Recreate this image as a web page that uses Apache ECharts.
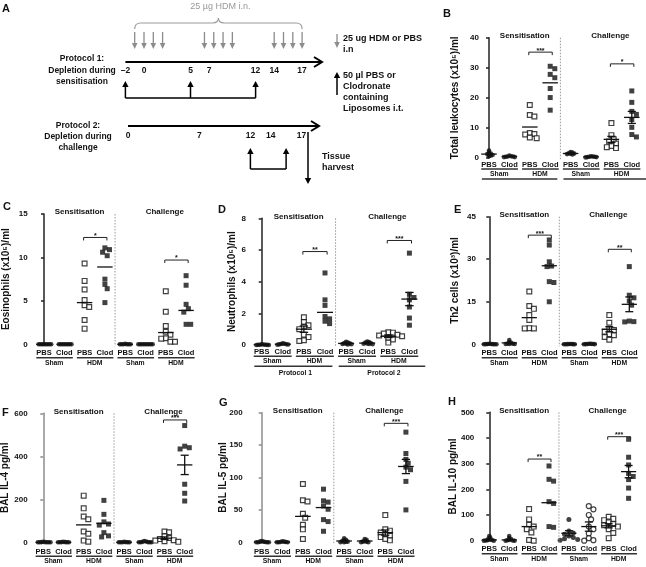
<!DOCTYPE html>
<html><head><meta charset="utf-8">
<script src="https://cdn.jsdelivr.net/npm/echarts/dist/echarts.min.js"></script>
<style>html,body{margin:0;padding:0;background:#fff}#c{width:646px;height:567px}</style>
</head><body><div id="c"></div>
<script>
// ---------------- DATA ----------------
const categories = ['PBS','Clod','PBS','Clod','PBS','Clod','PBS','Clod'];
const groupLabels = ['Sham','HDM','Sham','HDM'];
const phaseTitles = ['Sensitisation','Challenge'];
const protocolLabels = ['Protocol 1','Protocol 2'];

// Panel A timeline (days)
const hdmDays = [-1,0,1,2,6.5,7.5,8.5,9.5,14,15,16,17];
const protocol1Ticks = [-2,0,5,7,12,14,17];
const protocol1Liposome = [-2,5,12];
const protocol2Ticks = [0,7,12,14,17];
const protocol2Liposome = [12,15.5];
const harvestDay = 17;

// B: Total leukocytes (x10^5)/ml
const leukocytes = [
  [2.5,1.8,1.5,1.3,1.2,1.0,0.8,0.6],
  [0.8,0.6,0.5,0.5,0.4,0.3,0.3],
  [17.6,14.3,13.8,8.3,8.0,7.8,6.8,6.6],
  [30.5,29.7,27.8,26.7,23.1,20.1,15.9],
  [2.0,1.8,1.6,1.5,1.4,1.3,1.2],
  [0.6,0.5,0.4,0.4,0.3,0.3,0.2],
  [11.6,7.6,6.2,5.5,4.8,4.0,3.6,3.3],
  [22.3,18.5,15.5,14.5,12.8,10.2,7.8,7.0]
];
const leukocytesCentre = [1.3,0.5,10.3,25.0,1.5,0.4,6.2,13.5];
const leukocytesSem = [0,0,0,0,0.15,0.05,1.0,2.0];
const leukocytesTicks = [0,10,20,30,40];
const leukocytesSig = [[2,3,35.2,'***'],[6,7,31.3,'*']];

// C: Eosinophils (x10^5)/ml
const eosinophils = [
  [0,0,0,0,0,0,0,0],
  [0,0,0,0,0,0,0,0],
  [9.3,7.3,6.3,5.1,4.5,4.3,2.8,1.8],
  [11.1,10.9,10.6,10.2,7.5,6.9,6.4,4.8],
  [0.05,0,0,0,0,0,0],
  [0,0,0,0,0,0,0,0,0],
  [6.1,3.75,2.1,1.45,1.1,0.7,0.65,0.3,0.3],
  [7.9,6.8,4.6,4.1,3.7,2.3,2.3]
];
const eosinophilsCentre = [0,0,4.8,8.9,0,0,1.35,3.9];
const eosinophilsSem = [0,0,0,0,0,0,0,0];
const eosinophilsTicks = [0,5,10,15];
const eosinophilsSig = [[2,3,12.3,'*'],[6,7,9.7,'*']];

// D: Neutrophils (x10^5)/ml
const neutrophils = [
  [0.05,0.03,0.02,0.02,0.01,0.01,0,0],
  [0.1,0.08,0.06,0.05,0.04,0.03,0.02],
  [1.75,1.45,1.25,1.15,1.0,0.65,0.5,0.3,0.25],
  [4.55,2.85,2.5,1.8,1.65,1.5,1.35],
  [0.2,0.15,0.12,0.1,0.08,0.06,0.05,0.03],
  [0.22,0.18,0.15,0.12,0.1,0.08,0.06,0.05],
  [0.8,0.78,0.72,0.65,0.6,0.55,0.45,0.35,0.15],
  [5.8,3.2,3.0,2.85,2.4,1.7,1.25]
];
const neutrophilsCentre = [0.02,0.05,1.0,2.06,0.1,0.12,0.55,2.9];
const neutrophilsSem = [0,0,0.2,0,0.02,0.02,0.08,0.42];
const neutrophilsTicks = [0,2,4,6,8];
const neutrophilsSig = [[2,3,5.9,'**'],[6,7,6.6,'***']];

// E: Th2 cells (x10^3)/ml
const th2Cells = [
  [0.2,0.1,0.1,0.05,0.05,0,0,0],
  [1.5,0.8,0.5,0.3,0.2,0.1,0.1,0.1],
  [18.6,13.5,12.5,10.3,8.6,5.7,5.6,5.6],
  [36.8,35.0,29.1,27.6,27.4,22.1,21.8,15.0],
  [0.1,0.1,0.05,0.05,0,0,0],
  [0.2,0.15,0.1,0.1,0.05,0.05,0],
  [10.3,7.6,5.4,5.0,4.4,3.6,3.2,2.6,1.6],
  [27.4,17.3,16.4,15.3,13.8,8.2,8.0,7.9]
];
const th2CellsCentre = [0.1,0.5,9.4,27.7,0.05,0.1,5.3,14.1];
const th2CellsSem = [0,0,0,0,0,0,0.9,2.6];
const th2CellsTicks = [0,15,30,45];
const th2CellsSig = [[2,3,38.5,'***'],[6,7,33.5,'**']];

// F: BAL IL-4 pg/ml
const il4 = [
  [2,1,1,0,0,0,0,0],
  [2,1,1,0,0,0,0],
  [217,158,120,107,50,40,8,3],
  [195,130,95,85,80,45,30,25],
  [2,1,0,0,0,0,0],
  [6,4,2,1,0,0,0,0],
  [50,47,28,20,15,10,8,5,2],
  [543,447,440,434,270,228,192]
];
const il4Centre = [0,0,81,88,0,1,19,360];
const il4Sem = [0,0,0,0,0,0,6,45];
const il4Ticks = [0,200,400,600];
const il4Sig = [[6,7,569,'***']];

// G: BAL IL-5 pg/ml
const il5 = [
  [2,1,1,0.5,0,0,0,0],
  [1.5,1,0.5,0.5,0,0,0],
  [90,65,63,44,38,27,20,5],
  [82,64,62,56,51,35,32,17],
  [6,4,3,2,1,1,0,0],
  [5,4,2,1,1,0,0],
  [42,20,18,15,12,10,8,5,3],
  [170,137,128,122,116,112,94,50]
];
const il5Centre = [0.5,0.5,40,53.6,2,2,15,117];
const il5Sem = [0,0,0,0,0.7,0.7,4,11];
const il5Ticks = [0,50,100,150,200];
const il5Sig = [[6,7,183.6,'***']];

// H: BAL IL-10 pg/ml
const il10 = [
  [18,12,8,5,3,2,1,0,0],
  [18,10,6,3,2,1,0,0],
  [123,83,62,55,45,32,3,0],
  [291,239,232,152,145,55,52],
  [83,38,30,25,18,12,8,5,2],
  [135,122,100,83,55,45,28,10,2,0],
  [93,85,80,72,65,60,55,45,30,10],
  [395,325,295,262,250,238,205,165]
];
const il10Centre = [3,3,55,148,29,55,58,269];
const il10Sem = [0,0,0,0,10,18,8,24];
const il10Ticks = [0,100,200,300,400,500];
const il10Sig = [[2,3,318,'**'],[6,7,405,'***']];

// ---------------- LAYOUT ----------------
const FONT = '"Liberation Sans", Arial, Helvetica, sans-serif';
const defaultMarks = ['dot','dot','openSq','fillSq','dot','dot','openSq','fillSq'];
const panels = [
  {letter:'B', lx:443, ly:14, name:'Total leukocytes (x10⁵)/ml', values:leukocytes, centre:leukocytesCentre, sem:leukocytesSem, ticks:leukocytesTicks, sig:leukocytesSig,
   axisX:483, cat0:489, sp:20.4, top:37.7, bottom:158, nameGap:23, labelDy:6.5, axisColor:'#222', second:true, secondText:false},
  {letter:'C', lx:3, ly:207, name:'Eosinophils (x10⁵)/ml', values:eosinophils, centre:eosinophilsCentre, sem:eosinophilsSem, ticks:eosinophilsTicks, sig:eosinophilsSig,
   axisX:31.7, cat0:44, sp:20.3, top:214, bottom:344.3, nameGap:20, labelDy:9, axisColor:'#222'},
  {letter:'D', lx:218, ly:210, name:'Neutrophils (x10⁵)/ml', values:neutrophils, centre:neutrophilsCentre, sem:neutrophilsSem, ticks:neutrophilsTicks, sig:neutrophilsSig,
   axisX:250, cat0:261.7, sp:21.1, top:218.3, bottom:345, nameGap:13, labelDy:6.7, axisColor:'#222', second:true, secondText:true},
  {letter:'E', lx:454, ly:210, name:'Th2 cells (x10³)/ml', values:th2Cells, centre:th2CellsCentre, sem:th2CellsSem, ticks:th2CellsTicks, sig:th2CellsSig,
   axisX:480, cat0:489.3, sp:20, top:216.7, bottom:344.3, nameGap:20, labelDy:9, axisColor:'#222'},
  {letter:'F', lx:2, ly:412.7, name:'BAL IL-4 pg/ml', values:il4, centre:il4Centre, sem:il4Sem, ticks:il4Ticks, sig:il4Sig,
   axisX:31.7, cat0:43.3, sp:20.2, top:413.3, bottom:542.3, nameGap:21, labelDy:9.4, axisColor:'#8c8c8c'},
  {letter:'G', lx:219, ly:403.3, name:'BAL IL-5 pg/ml', values:il5, centre:il5Centre, sem:il5Sem, ticks:il5Ticks, sig:il5Sig,
   axisX:246.7, cat0:261.7, sp:20.6, top:412.7, bottom:542.3, nameGap:18, labelDy:9.4, axisColor:'#8c8c8c'},
  {letter:'H', lx:448, ly:402.3, name:'BAL IL-10 pg/ml', values:il10, centre:il10Centre, sem:il10Sem, ticks:il10Ticks, sig:il10Sig,
   axisX:478.3, cat0:489.3, sp:19.9, top:412.3, bottom:540.7, nameGap:20, labelDy:8.6, axisColor:'#222',
   marks:['dot','dot','openSq','fillSq','fillCircle','openCircle','openSq','fillSq']}
];

const markStyles = {
  dot:{symbol:'circle', size:4.6, itemStyle:{color:'#111'}, d:1.8},
  openSq:{symbol:'rect', size:4.8, itemStyle:{color:'#fff', borderColor:'#111', borderWidth:1.2}, d:4.6},
  fillSq:{symbol:'rect', size:5, itemStyle:{color:'#111'}, d:4.6},
  fillCircle:{symbol:'circle', size:5, itemStyle:{color:'#111'}, d:4.4},
  openCircle:{symbol:'circle', size:5, itemStyle:{color:'#fff', borderColor:'#111', borderWidth:1.2}, d:4.6}
};

function swarm(vals, pyu, d, sp){
  const placed = [], out = [];
  vals.forEach(v => {
    const y = v * pyu;
    for (let k = 0; k < 60; k++) {
      const step = Math.ceil(k/2) * (k % 2 ? 1 : -1) * 0.5;
      const x = step * d;
      if (placed.every(p => Math.hypot(p[0]-x, p[1]-y) >= d*0.98)) { placed.push([x,y]); out.push(x/sp); break; }
    }
  });
  return out;
}

const grids=[], xAxes=[], yAxes=[], series=[];
panels.forEach((P, pi) => {
  const xmin = -(P.cat0 - P.axisX)/P.sp, xmax = 7.5;
  const ymax = P.ticks[P.ticks.length-1];
  const height = P.bottom - P.top;
  grids.push({left:P.axisX, top:P.top, width:(xmax-xmin)*P.sp, height, containLabel:false, outerBoundsMode:'none'});
  xAxes.push({gridIndex:pi, type:'value', min:xmin, max:xmax, show:false});
  yAxes.push({gridIndex:pi, type:'value', min:0, max:ymax, interval:P.ticks[1]-P.ticks[0],
    name:P.name, nameLocation:'middle', nameGap:P.nameGap, nameRotate:90, nameMoveOverlap:false,
    nameTextStyle:{fontSize:10, fontWeight:'bold', color:'#111', fontFamily:FONT},
    axisLine:{show:true, lineStyle:{color:P.axisColor, width:1.5}},
    axisTick:{show:true, length:3, lineStyle:{color:P.axisColor, width:1.5}},
    axisLabel:{fontSize:8, fontWeight:'bold', color:'#111', margin:4, fontFamily:FONT},
    splitLine:{show:false}});
  const pyu = height / ymax;
  const marks = P.marks || defaultMarks;
  P.values.forEach((vals, g) => {
    const M = markStyles[marks[g]];
    const off = swarm(vals, pyu, M.d, P.sp);
    series.push({type:'scatter', xAxisIndex:pi, yAxisIndex:pi, silent:true, z:3,
      symbol:M.symbol, symbolSize:M.size, itemStyle:M.itemStyle,
      data: vals.map((v,j) => [g + off[j], v])});
  });
  // centre line + SEM
  series.push({type:'custom', xAxisIndex:pi, yAxisIndex:pi, silent:true, z:4, clip:false,
    data: P.centre.map((c,g) => [g, c, P.sem[g]]),
    renderItem: (params, api) => {
      const g = api.value(0), c = api.value(1), s = api.value(2);
      const p = api.coord([g, c]); const hw = 0.38*P.sp, cw = 0.2*P.sp;
      const ch = [{type:'line', shape:{x1:p[0]-hw, y1:p[1], x2:p[0]+hw, y2:p[1]}, style:{stroke:'#111', lineWidth:1.3}}];
      if (s > 0) {
        const a = api.coord([g, c+s]), b = api.coord([g, c-s]);
        ch.push({type:'line', shape:{x1:a[0], y1:a[1], x2:b[0], y2:b[1]}, style:{stroke:'#111', lineWidth:1.3}});
        ch.push({type:'line', shape:{x1:a[0]-cw, y1:a[1], x2:a[0]+cw, y2:a[1]}, style:{stroke:'#111', lineWidth:1.3}});
        ch.push({type:'line', shape:{x1:b[0]-cw, y1:b[1], x2:b[0]+cw, y2:b[1]}, style:{stroke:'#111', lineWidth:1.3}});
      }
      return {type:'group', children:ch};
    }});
  // annotations
  series.push({type:'custom', xAxisIndex:pi, yAxisIndex:pi, silent:true, z:5, clip:false,
    data:[[0,0]],
    renderItem: (params, api) => {
      const ch = [];
      const L = (x1,y1,x2,y2,stroke,w,dash) => ch.push({type:'line', shape:{x1,y1,x2,y2}, style:{stroke, lineWidth:w, lineDash:dash||null}});
      const T = (text,x,y,size,weight) => ch.push({type:'text', x, y, style:{text, font:weight+' '+size+'px '+FONT, fill:'#111', align:'center', verticalAlign:'middle'}});
      const top = api.coord([3.5, ymax]), bot = api.coord([3.5, 0]);
      L(top[0], top[1], bot[0], bot[1]+2, '#9a9a9a', 1, [1.5,1.5]);
      phaseTitles.forEach((t,i) => { const p = api.coord([i ? 5.95 : 1.75, ymax]); T(t, p[0], p[1]-2, 8, 'bold'); });
      P.sig.forEach(s => {
        const a = api.coord([s[0]-0.05, s[2]]), b = api.coord([s[1]+0.1, s[2]]);
        L(a[0], a[1]+3, a[0], a[1], '#222', 1); L(a[0], a[1], b[0], a[1], '#222', 1); L(b[0], a[1], b[0], a[1]+3, '#222', 1);
        T(s[3], (a[0]+b[0])/2, a[1]-1.5, 7, 'bold');
      });
      const y0 = bot[1], dy = P.labelDy;
      categories.forEach((c,g) => { const p = api.coord([g, 0]); T(c, p[0], y0+dy, 7.5, 'bold'); });
      groupLabels.forEach((t,k) => {
        const a = api.coord([2*k, 0]), b = api.coord([2*k+1, 0]);
        L(a[0]-0.38*P.sp, y0+dy+4.5, b[0]+0.42*P.sp, y0+dy+4.5, '#333', 1.5);
        T(t, (a[0]+b[0])/2, y0+dy+9.5, 6.8, 'bold');
      });
      if (P.second) {
        [0,1].forEach(k => {
          const a = api.coord([4*k, 0]), b = api.coord([4*k+3, 0]);
          const xl = a[0]-0.35*P.sp, xr = b[0]+(k ? 0.75 : 0.35)*P.sp;
          L(xl, y0+dy+14.5, xr, y0+dy+14.5, '#333', 1.5);
          if (P.secondText) T(protocolLabels[k], (xl+xr)/2 + 2, y0+dy+21, 6.8, 'bold');
        });
      }
      return {type:'group', children:ch};
    }});
});

// ---------------- PANEL A + letters (graphic) ----------------
const G = [];
const gl = (x1,y1,x2,y2,stroke,w) => G.push({type:'line', silent:true, shape:{x1,y1,x2,y2}, style:{stroke, lineWidth:w}});
const gt = (text,x,y,font,fill,align) => G.push({type:'text', silent:true, x, y,
  style:{text, font, fill:fill||'#111', align:align||'center', verticalAlign:'middle', textAlign:align||'center', textVerticalAlign:'middle'}});
const head = (x,y,dir,color,w,h) => G.push({type:'polygon', silent:true, shape:{points:[[x,y],[x-w,y-dir*h],[x+w,y-dir*h]]}, style:{fill:color}});
const bz = (x1,y1,cx,cy,x2,y2) => G.push({type:'bezierCurve', silent:true, shape:{x1,y1,x2,y2,cpx1:cx,cpy1:cy}, style:{stroke:'#9a9a9a', lineWidth:1.2, fill:null}});
const p1 = d => 144 + 9.3*d;
const p2 = d => 128 + 10.2*d;
const B8 = 'bold 8.5px ' + FONT, B9 = 'bold 9px ' + FONT;
const dayText = d => d < 0 ? '\u2013' + Math.abs(d) : String(d);

// brace + HDM arrows
const xa = p1(hdmDays[0]), xb = p1(hdmDays[hdmDays.length-1]), xm = (xa+xb)/2;
bz(xa,29, xa,23, xa+6,23); gl(xa+6,23, xm-6,23, '#9a9a9a',1.2); bz(xm-6,23, xm,23, xm,18);
bz(xm,18, xm,23, xm+6,23); gl(xm+6,23, xb-6,23, '#9a9a9a',1.2); bz(xb-6,23, xb,23, xb,29);
gt('25 µg HDM i.n.', xm+2, 7, '9px ' + FONT, '#999');
hdmDays.forEach(d => { const x = p1(d); gl(x,32,x,44,'#8c8c8c',1.3); head(x,49,1,'#8c8c8c',2.8,6); });

// protocol 1
gl(p1(-2),62,322,62,'#000',2);
G.push({type:'polyline', silent:true, shape:{points:[[314,57],[322,62],[314,67]]}, style:{stroke:'#000', lineWidth:2, fill:null}});
gt('Protocol 1:',82,59,B8); gt('Depletion during',82,71,B8); gt('sensitisation',82,82,B8);
protocol1Ticks.forEach(d => gt(dayText(d), p1(d), 71, B8));
protocol1Liposome.forEach(d => { const x = p1(d); gl(x,98,x,86,'#000',1.5); head(x,81,-1,'#000',3.2,6); });
gl(p1(protocol1Liposome[0]),98,p1(protocol1Liposome[protocol1Liposome.length-1]),98,'#000',1.5);

// protocol 2
gl(p2(0),126,319,126,'#000',2);
G.push({type:'polyline', silent:true, shape:{points:[[311,121],[319,126],[311,131]]}, style:{stroke:'#000', lineWidth:2, fill:null}});
gt('Protocol 2:',78,126,B8); gt('Depletion during',78,137,B8); gt('challenge',78,148,B8);
protocol2Ticks.forEach(d => gt(dayText(d), p2(d), 136, B8));
protocol2Liposome.forEach(d => { const x = p2(d); gl(x,169,x,153,'#000',1.5); head(x,148,-1,'#000',3.2,6); });
gl(p2(protocol2Liposome[0]),169,p2(protocol2Liposome[1]),169,'#000',1.5);
const hx = p2(harvestDay) + 6.6;
gl(hx,132,hx,178,'#000',1.5); head(hx,184,1,'#000',3.2,6);
gt('Tissue',322,157,B9,'#111','left'); gt('harvest',322,168,B9,'#111','left');

// legend
gl(337,34,337,43,'#8c8c8c',1.3); head(337,48,1,'#8c8c8c',2.8,6);
gt('25 ug HDM or PBS',343,39,B9,'#111','left'); gt('i.n',343,50,B9,'#111','left');
gl(337,95,337,77,'#000',1.5); head(337,72,-1,'#000',3.2,6);
['50 µl PBS or','Clodronate','containing','Liposomes i.t.'].forEach((t,i) => gt(t,343,76+11*i,B9,'#111','left'));

// panel letters
gt('A',2,9,'bold 11px ' + FONT,'#111','left');
panels.forEach(P => gt(P.letter, P.lx, P.ly, 'bold 11px ' + FONT, '#111', 'left'));

const chart = echarts.init(document.getElementById('c'), null, {renderer:'canvas'});
chart.setOption({
  animation:false,
  backgroundColor:'#fff',
  grid:grids, xAxis:xAxes, yAxis:yAxes, series:series,
  graphic:{elements:G}
});
</script></body></html>
